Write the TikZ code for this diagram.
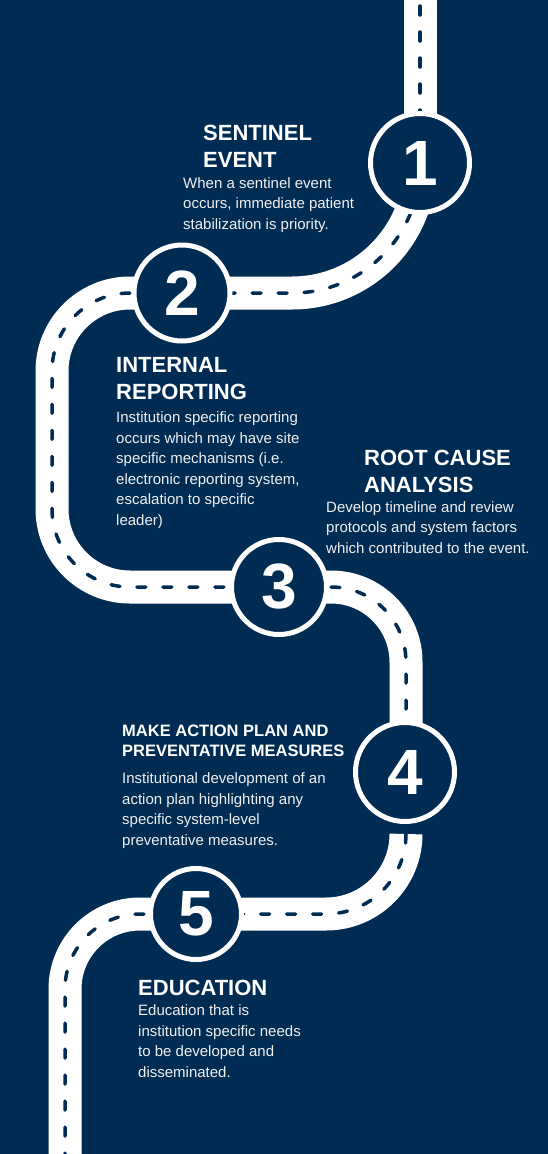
\documentclass[tikz,border=0pt]{standalone}
\usepackage{fontspec}
\setmainfont{Liberation Sans}
\definecolor{navy}{HTML}{002C54}
\definecolor{bodytext}{HTML}{F0F0F0}
\begin{document}
\begin{tikzpicture}[x=1pt,y=-1pt,
  road/.style={draw=white, line width=33pt,
    postaction={draw=navy, line width=3.5pt, line cap=round, dash pattern=on 9pt off 17pt}},
  milestone/.style={circle, draw=white, line width=5pt, fill=navy, inner sep=0pt,
    minimum size=#1, text=white, font=\fontsize{64}{64}\selectfont\bfseries},
  heading/.style={anchor=base west, inner sep=0pt, align=left, text=white,
    font=\fontsize{22}{26.5}\selectfont\bfseries},
  subheading/.style={anchor=base west, inner sep=0pt, align=left, text=white,
    font=\fontsize{16.5}{19.5}\selectfont\bfseries},
  body/.style={anchor=base west, inner sep=0pt, align=left, text=bodytext,
    font=\fontsize{15}{20.5}\selectfont},
]
\fill[navy] (0,0) rectangle (548,1154);
\useasboundingbox (0,0) rectangle (548,1154);

% centres of the milestones and free road ends
\coordinate (p1) at (420,163);
\coordinate (p2) at (182,293);
\coordinate (p3) at (279,587);
\coordinate (p4) at (405,772);
\coordinate (p5) at (196,914);
\coordinate (top) at (420,-20);
\coordinate (s4) at (406,834);
\coordinate (bottom) at (65,1180);

% road
\draw[road] (top) -- (p1);
\draw[road, rounded corners=128pt] (p1) -- (p1 |- p2) -- (p2);
\draw[road, rounded corners=78pt] (p2) -- (52,293) -- (52,587) -- (p3);
\draw[road, rounded corners=75pt] (p3) -- (406,587) -- (406,772);
\draw[road, rounded corners=80pt] (s4) -- (406,914) -- (p5);
\draw[road, rounded corners=75pt] (p5) -- (65,914) -- (bottom);

% milestones
\node[milestone=99pt] (c1) at (p1) {1};
\node[milestone=96pt] (c2) at (p2) {2};
\node[milestone=95pt] (c3) at (p3) {3};
\node[milestone=99pt] (c4) at (p4) {4};
\node[milestone=91pt] (c5) at (p5) {5};

% texts (anchored at the baseline of their last line)
\node[heading] (h1) at (203,167) {SENTINEL\\EVENT};
\node[body] (b1) at (183,229) {When a sentinel event\\occurs, immediate patient\\stabilization is priority.};

\node[heading] (h2) at (116,399) {INTERNAL\\REPORTING};
\node[body] (b2) at (116,525) {Institution specific reporting\\occurs which may have site\\specific mechanisms (i.e.\\electronic reporting system,\\escalation to specific\\leader)};

\node[heading] (h3) at (364,492) {ROOT CAUSE\\ANALYSIS};
\node[body] (b3) at (326,553) {Develop timeline and review\\protocols and system factors\\which contributed to the event.};

\node[subheading] (h4) at (122,756) {MAKE ACTION PLAN AND\\PREVENTATIVE MEASURES};
\node[body] (b4) at (122,845) {Institutional development of an\\action plan highlighting any\\specific system-level\\preventative measures.};

\node[heading] (h5) at (138,995) {EDUCATION};
\node[body] (b5) at (138,1077) {Education that is\\institution specific needs\\to be developed and\\disseminated.};
\end{tikzpicture}
\end{document}
